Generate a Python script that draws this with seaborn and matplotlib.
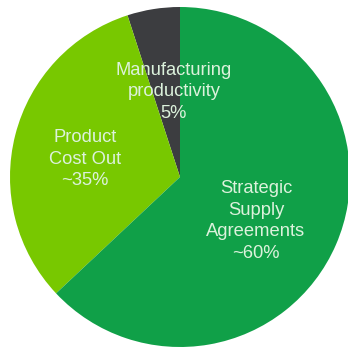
import matplotlib
matplotlib.use("Agg")
import matplotlib.pyplot as plt
import seaborn as sns

sns.set_style("white")
plt.rcParams['font.family'] = ['Liberation Sans', 'DejaVu Sans']

categories = ["Manufacturing\nproductivity\n5%", "Product\nCost Out\n~35%", "Strategic\nSupply\nAgreements\n~60%"]
values = [5, 32, 63]
colors = ["#3c3d40", "#78c800", "#10a048"]

fig = plt.figure(figsize=(3.48, 3.48), dpi=100)
ax = fig.add_axes([0, 0, 1, 1])
wedges, _ = ax.pie(values, colors=colors, startangle=90, counterclock=True,
                   radius=1.0, center=(0, 0), wedgeprops=dict(linewidth=0))
scale = 170.0
cx, cy = 180.0, 177.0
ax.set_xlim(-cx / scale, (348 - cx) / scale)
ax.set_ylim(-(348 - cy) / scale, cy / scale)
ax.set_aspect('auto')
ax.axis('off')

def px(x, y):
    return (x - cx) / scale, (cy - y) / scale

label_pos = [(174, 92), (85, 159), (256, 221)]
for lab, (x, y) in zip(categories, label_pos):
    tx, ty = px(x, y)
    ax.text(tx, ty, lab, ha='center', va='center', fontsize=13.2,
            color='#dcf2dc', linespacing=1.38)

fig.savefig("out.png", dpi=100, facecolor='white')
